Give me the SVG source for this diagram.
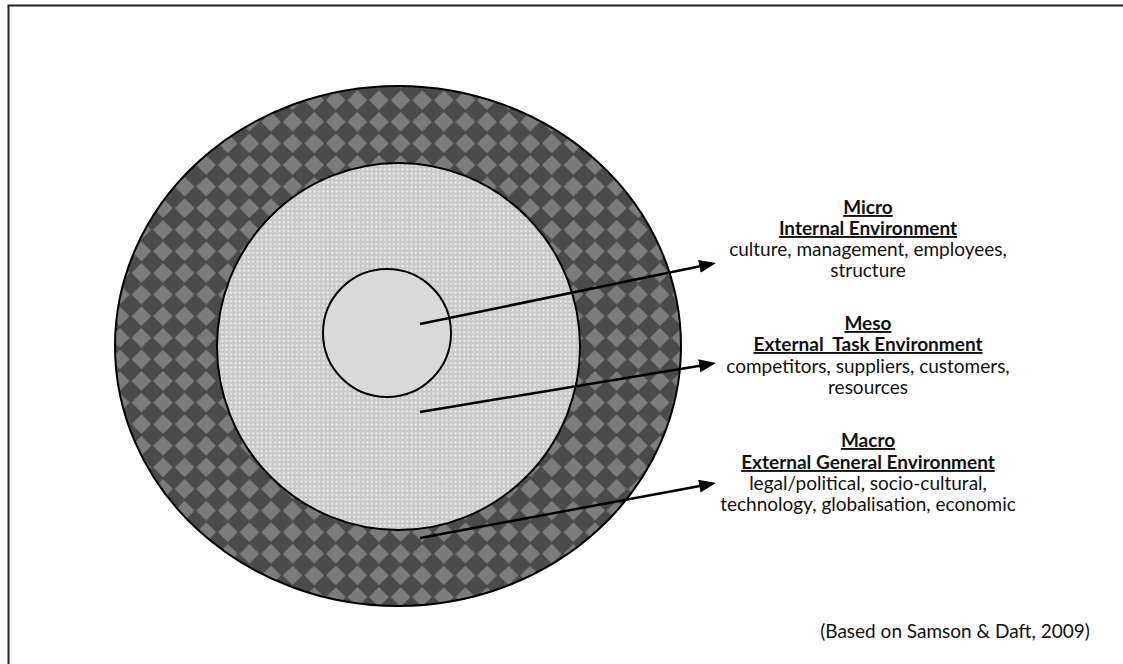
<svg xmlns="http://www.w3.org/2000/svg" width="1123" height="664" viewBox="0 0 1123 664">
  <style>
    .ring { stroke: #000; stroke-width: 2; }
    .lbl { font-family: Lato, "Liberation Sans", sans-serif; font-size: 19px; fill: #111; text-anchor: middle; }
    .hd { font-weight: bold; text-decoration: underline; }
    .conn line { stroke: #000; stroke-width: 2.5; fill: none; marker-end: url(#arrow); }
  </style>
  <defs>
    <!-- diagonal checker for the outer ring -->
    <pattern id="checker" patternUnits="userSpaceOnUse" width="21.6" height="21.6" x="1" y="3">
      <rect width="21.6" height="21.6" fill="#4a4a4a"/>
      <polygon points="10.8,1 20.6,10.8 10.8,20.6 1,10.8" fill="#7c7c7c"/>
    </pattern>
    <!-- fine dot texture for the middle ring -->
    <pattern id="dots" patternUnits="userSpaceOnUse" width="4.4" height="4.4">
      <rect width="4.4" height="4.4" fill="#c8c8c8"/>
      <circle cx="2.2" cy="2.2" r="1.1" fill="#efefef"/>
    </pattern>
    <marker id="arrow" markerUnits="userSpaceOnUse" markerWidth="18" markerHeight="14" refX="13" refY="6.5" orient="auto">
      <path d="M0,0 L17,6.5 L0,13 z" fill="#000"/>
    </marker>
  </defs>

  <rect width="1123" height="664" fill="#fff"/>
  <!-- page frame -->
  <rect x="8.5" y="5.5" width="1200" height="700" fill="none" stroke="#222" stroke-width="2"/>

  <g id="macro-ring">
    <ellipse class="ring" cx="398" cy="346" rx="283" ry="260" fill="url(#checker)"/>
  </g>
  <g id="meso-ring">
    <ellipse class="ring" cx="398.5" cy="346.5" rx="181.5" ry="183.5" fill="url(#dots)"/>
  </g>
  <g id="micro-core">
    <circle class="ring" cx="387" cy="333" r="64" fill="#d9d9d9"/>
  </g>

  <g id="connectors" class="conn">
    <line x1="420" y1="324" x2="712.1" y2="263.8"/>
    <line x1="420" y1="412" x2="712.05" y2="363.65"/>
    <line x1="420" y1="538" x2="712.07" y2="483.73"/>
  </g>

  <g id="micro-label">
    <text class="lbl hd" x="868" y="214">Micro</text>
    <text class="lbl hd" x="868" y="235">Internal Environment</text>
    <text class="lbl" x="868" y="256">culture, management, employees,</text>
    <text class="lbl" x="868" y="277">structure</text>
  </g>
  <g id="meso-label">
    <text class="lbl hd" x="868" y="330">Meso</text>
    <text class="lbl hd" x="868" y="351" xml:space="preserve">External  Task Environment</text>
    <text class="lbl" x="868" y="373">competitors, suppliers, customers,</text>
    <text class="lbl" x="868" y="394">resources</text>
  </g>
  <g id="macro-label">
    <text class="lbl hd" x="868" y="447">Macro</text>
    <text class="lbl hd" x="868" y="469">External General Environment</text>
    <text class="lbl" x="868" y="490">legal/political, socio-cultural,</text>
    <text class="lbl" x="868" y="511">technology, globalisation, economic</text>
  </g>
  <g id="citation">
    <text class="lbl" x="955" y="638">(Based on Samson &amp; Daft, 2009)</text>
  </g>
</svg>
